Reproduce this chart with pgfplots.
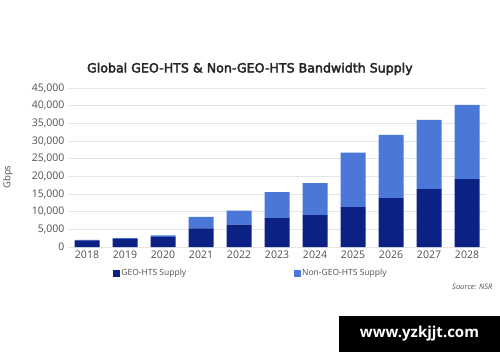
\documentclass[border=0pt]{standalone}
\usepackage{fontspec}
\setmainfont{Open Sans}
\newfontfamily\titlefont[FakeBold=3]{DejaVu Sans}
\usepackage{pgfplots}
\pgfplotsset{compat=1.18}
\definecolor{geo}{HTML}{0B2284}
\definecolor{ngeo}{HTML}{4A77D8}
\definecolor{txt}{HTML}{505050}
\begin{document}
\begin{tikzpicture}[x=1pt,y=1pt]
\fill[white] (0,0) rectangle (500,362);
\begin{axis}[
  at={(68pt,115pt)}, anchor=south west,
  scale only axis, width=418pt, height=159pt,
  ybar stacked, bar width=25pt,
  xmin=-0.5, xmax=10.5, ymin=0, ymax=45000,
  xtick={0,...,10},
  xticklabels={2018,2019,2020,2021,2022,2023,2024,2025,2026,2027,2028},
  ytick={0,5000,...,45000},
  axis line style={draw=none},
  ymajorgrids, major grid style={draw=black!10, line width=0.8pt},
  major tick length=0pt,
  scaled y ticks=false,
  /pgf/number format/assume math mode=true,
  yticklabel style={/pgf/number format/.cd,1000 sep={,}},
  tick label style={font=\fontsize{10.5}{12}\selectfont, text=txt},
  ylabel={Gbps},
  every axis y label/.style={at={(axis description cs:-0.1435,0.44)}, rotate=90, anchor=center, font=\fontsize{9.5}{11}\selectfont, text=txt},
  title={Global GEO-HTS \& Non-GEO-HTS Bandwidth Supply},
  title style={at={(axis description cs:0.435,1.082)}, anchor=center, font=\titlefont\fontsize{12.6}{14}\selectfont, text=black!85},
  legend columns=2,
  legend style={at={(axis description cs:0.108,-0.164)}, anchor=west, draw=none, fill=none, inner sep=0pt,
    font=\fontsize{8.5}{10}\selectfont, text=txt,
    /tikz/every even column/.append style={column sep=107pt},
    nodes={inner sep=1pt}},
  legend image code/.code={\fill[#1] (0pt,-3.5pt) rectangle (7pt,3.5pt);},
]
\addplot[fill=geo, draw=none] coordinates {(0,1900) (1,2300) (2,2900) (3,5300) (4,6300) (5,8200) (6,9000) (7,11300) (8,13800) (9,16400) (10,19200)};
\addlegendentry{GEO-HTS Supply}
\addplot[fill=ngeo, draw=none] coordinates {(0,100) (1,200) (2,400) (3,3200) (4,4000) (5,7300) (6,9100) (7,15400) (8,17900) (9,19600) (10,21000)};
\addlegendentry{Non-GEO-HTS Supply}
\end{axis}
\node[anchor=east, font=\fontsize{7.5}{9}\selectfont\itshape, text=txt] at (496,75) {Source: NSR};
\fill[black] (339,10) rectangle (500,46);
\node[text=white, font=\fontsize{15}{17}\selectfont\bfseries] at (419.5,28) {www.yzkjjt.com};
\pgfresetboundingbox
\useasboundingbox (0,0) rectangle (500,362);
\end{tikzpicture}
\end{document}
